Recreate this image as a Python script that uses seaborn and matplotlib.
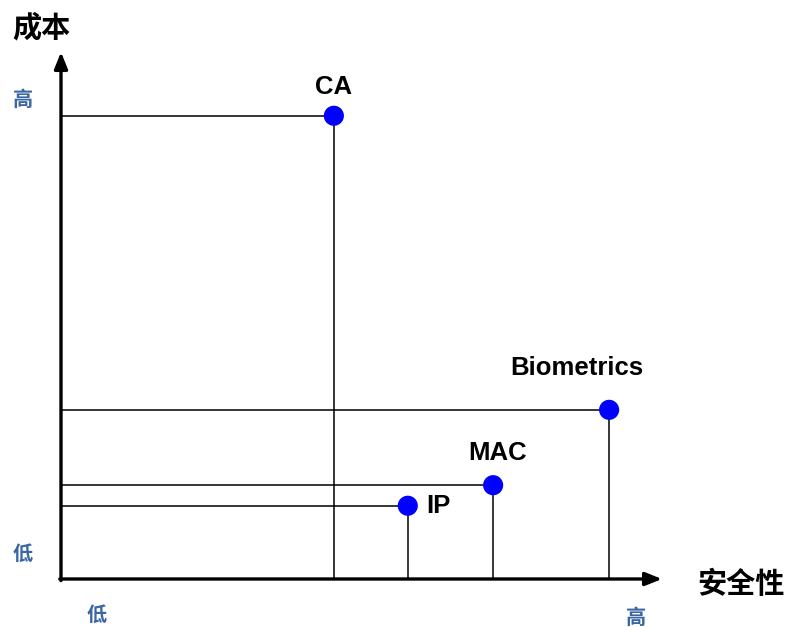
import matplotlib
matplotlib.use('Agg')
import matplotlib.pyplot as plt
import seaborn as sns
import pandas as pd

# security vs cost of each authentication method (0-100 relative scale)
methods = ['CA', 'Biometrics', 'MAC', 'IP']
security = [45.4, 91.2, 71.9, 57.7]
cost = [87.9, 32.1, 17.8, 13.9]

# label offsets from the point, in points (dx, dy, ha)
label_pos = {'CA': (0, 21, 'center'),
             'Biometrics': (-23, 30, 'center'),
             'MAC': (3, 23, 'center'),
             'IP': (13.5, 0, 'left')}

x_name = '安全性'
y_name = '成本'
low_txt = '低'
high_txt = '高'

df = pd.DataFrame({'method': methods, 'security': security, 'cost': cost})

sns.set_style('white')
plt.rcParams['font.family'] = ['Liberation Sans', 'Noto Sans CJK SC', 'DejaVu Sans']

fig = plt.figure(figsize=(7.87, 6.27), dpi=100)
ax = fig.add_axes([61 / 787, 48 / 627, 601 / 787, 527 / 627])
ax.set_xlim(0, 100)
ax.set_ylim(0, 100)
for s in ax.spines.values():
    s.set_visible(False)
ax.set_xticks([])
ax.set_yticks([])

# guide lines to the axes
for _, r in df.iterrows():
    ax.plot([0, r.security], [r.cost, r.cost], color='black', lw=1.1, zorder=1)
    ax.plot([r.security, r.security], [0, r.cost], color='black', lw=1.1, zorder=1)

sns.scatterplot(data=df, x='security', y='cost', ax=ax, color='#0000ff',
                s=210, edgecolor='none', zorder=3, clip_on=False, legend=False)
ax.set_xlabel('')
ax.set_ylabel('')

for _, r in df.iterrows():
    dx, dy, ha = label_pos[r.method]
    ax.annotate(r.method, (r.security, r.cost), xytext=(dx, dy),
                textcoords='offset points', ha=ha, va='center',
                fontsize=18.5, fontweight='bold', color='black')

# axes with arrow heads
arrow = dict(arrowstyle='-|>,head_length=1.0,head_width=0.4', lw=2.4,
             color='black', shrinkA=0, shrinkB=0)
ax.annotate('', xy=(1, 0), xytext=(-0.002, 0), xycoords='axes fraction', arrowprops=arrow)
ax.annotate('', xy=(0, 1), xytext=(0, -0.003), xycoords='axes fraction', arrowprops=arrow)

cjk = ['Noto Sans CJK SC']
fig.text(41 / 787, 1 - 27 / 627, y_name, ha='center', va='center',
         fontsize=21, fontweight='bold', family=cjk, color='black')
fig.text(741 / 787, 1 - 584 / 627, x_name, ha='center', va='center',
         fontsize=21, fontweight='bold', family=cjk, color='black')

blue = '#3a66a3'
fig.text(23 / 787, 1 - 99 / 627, high_txt, ha='center', va='center',
         fontsize=14.5, fontweight='bold', color=blue, family=cjk)
fig.text(23 / 787, 1 - 553 / 627, low_txt, ha='center', va='center',
         fontsize=14.5, fontweight='bold', color=blue, family=cjk)
fig.text(97 / 787, 1 - 614 / 627, low_txt, ha='center', va='center',
         fontsize=14.5, fontweight='bold', color=blue, family=cjk)
fig.text(636 / 787, 1 - 617 / 627, high_txt, ha='center', va='center',
         fontsize=14.5, fontweight='bold', color=blue, family=cjk)

fig.savefig('out.png', dpi=100, facecolor='white')
